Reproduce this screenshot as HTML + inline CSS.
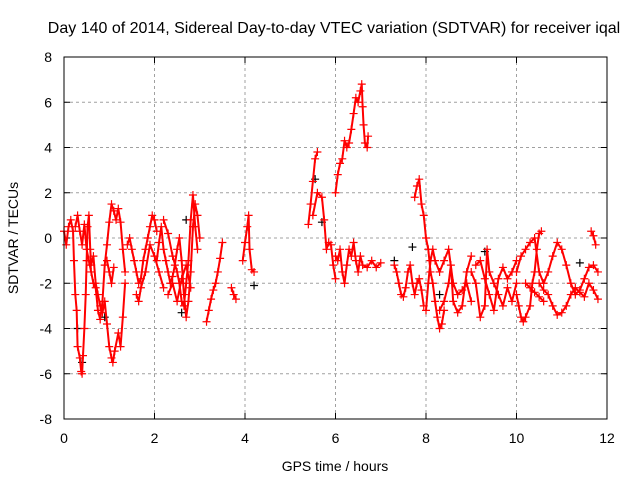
<!DOCTYPE html>
<html><head><meta charset="utf-8"><style>
body{margin:0;background:#fff;}
svg{display:block;font-family:"Liberation Sans",sans-serif;}
</style></head><body>
<svg id="chart" width="640" height="480" viewBox="0 0 640 480">
<rect width="640" height="480" fill="#fff"/>
<text x="334" y="33" font-size="16" text-anchor="middle">Day 140 of 2014, Sidereal Day-to-day VTEC variation (SDTVAR) for receiver iqal</text>
<g id="grid"></g>
<g id="axes"></g>
<g id="marks"></g>
<rect x="64" y="57" width="543" height="362" fill="none" stroke="#000" stroke-width="1"/>
<text x="335" y="471" font-size="14" text-anchor="middle">GPS time / hours</text>
<text x="0" y="0" font-size="14" text-anchor="middle" transform="translate(18,238) rotate(-90)">SDTVAR / TECUs</text>
</svg>
<script>
const xTicks=[0,2,4,6,8,10,12];
const yTicks=[-8,-6,-4,-2,0,2,4,6,8];
const traceA=[[0,0.3],[0.05,-0.3],[0.1,0.5],[0.15,0.8],[0.2,0.3],[0.22,-1],[0.25,-2.5],[0.28,-3.2],[0.3,-4.8],[0.35,-5.3],[0.38,-5.9],[0.4,-6.0],[0.42,-5.2],[0.45,-4],[0.48,-2.5],[0.5,-1],[0.52,0.5],[0.55,1.0],[0.58,-0.5],[0.6,-1.2],[0.65,-0.8],[0.7,-2],[0.75,-2.5],[0.8,-3.0],[0.85,-3.3],[0.9,-2.8],[0.95,-3.8],[1.0,-4.8],[1.05,-5.3],[1.08,-5.5],[1.12,-5.0],[1.2,-4.2],[1.25,-4.8],[1.3,-3.5],[1.35,-2.0]];
const traceB=[[0.25,0.5],[0.3,1.0],[0.35,0.3],[0.4,-0.3],[0.45,0.6],[0.5,-0.5],[0.55,-1.0],[0.6,-1.5],[0.65,-2.0],[0.7,-2.2],[0.75,-3.2],[0.8,-3.6],[0.85,-2.8],[0.9,-1.2],[0.95,-0.3],[1.0,0.7],[1.05,1.5],[1.1,1.2],[1.15,0.8],[1.2,1.3],[1.25,0.7],[1.3,-0.5],[1.35,-1.5]];
const traceC=[[0.95,-1.0],[1.0,-1.5],[1.05,-2.0],[1.1,-1.3]];
const traceD=[[1.4,-0.3],[1.45,0],[1.5,-0.5],[1.55,-1.0],[1.6,-1.5],[1.65,-2.0],[1.7,-1.8],[1.75,-1.0],[1.8,-0.5],[1.85,0],[1.9,0.5],[1.95,1.0],[2.0,0.8],[2.05,0.3]];
const traceE=[[1.6,-2.5],[1.65,-2.8],[1.7,-2.2],[1.8,-1.5],[1.9,-0.3],[2.0,-0.8],[2.1,-1.5],[2.2,-2.2]];
const traceF=[[2.05,-1.0],[2.1,-0.2],[2.15,0.5],[2.2,-0.5],[2.25,-1.0],[2.3,-1.5],[2.35,-2.0],[2.4,-1.7],[2.45,-1.2],[2.5,-0.5],[2.55,0],[2.6,-1],[2.65,-2.5],[2.7,-3.5],[2.75,-2.8],[2.8,-1.5],[2.85,0.5],[2.9,1.5],[2.95,1.0],[3.0,0.0]];
const traceG=[[2.2,0.8],[2.3,0.2],[2.4,-0.8],[2.5,-1.5],[2.55,-2.0],[2.6,-2.8],[2.65,-3.0],[2.7,-2.0],[2.75,-1.0],[2.8,0.8],[2.85,1.9],[2.9,0.5],[2.95,-0.5]];
const traceH=[[2.3,-2.5],[2.4,-2.0],[2.5,-2.8],[2.6,-1.8],[2.7,-1.2],[2.8,-2.2]];
const traceI=[[3.15,-3.7],[3.2,-3.2],[3.25,-2.7],[3.3,-2.3],[3.35,-2.0],[3.4,-1.5],[3.45,-0.9],[3.5,-0.2]];
const traceJ=[[3.7,-2.2],[3.75,-2.5],[3.8,-2.7]];
const traceK=[[3.95,-1.0],[4.0,-0.2],[4.05,0.5],[4.08,1.0],[4.1,-0.5],[4.15,-1.4],[4.2,-1.5]];
const traceL=[[5.4,0.6],[5.45,1.5],[5.5,2.5],[5.55,3.5],[5.6,3.8]];
const traceM=[[5.5,1.0],[5.6,2.0],[5.7,1.8],[5.75,0.8],[5.8,-0.5],[5.85,-0.2],[5.9,-0.3],[5.95,-1.2],[6.0,-1.8]];
const traceN=[[6.0,2.0],[6.05,2.8],[6.1,3.3],[6.15,3.5],[6.2,4.3],[6.25,4.0],[6.3,4.2],[6.35,4.8],[6.4,5.5],[6.45,6.2],[6.5,6.0],[6.55,6.5],[6.58,6.8],[6.6,5.8],[6.62,5.0],[6.65,4.2],[6.7,4.0],[6.72,4.5]];
const traceO=[[6.0,-0.8],[6.05,-1.0],[6.1,-0.5],[6.15,-1.5],[6.2,-2.0],[6.25,-1.2],[6.3,-0.5],[6.35,-0.8],[6.4,-0.2],[6.45,-1.0],[6.5,-1.5],[6.55,-0.8],[6.6,-1.2],[6.7,-1.3],[6.8,-1.0],[6.9,-1.3],[7.0,-1.1]];
const traceP=[[7.3,-1.2],[7.35,-1.5],[7.4,-2.0],[7.45,-2.5],[7.5,-2.6],[7.55,-2.2],[7.6,-1.5],[7.65,-1.2],[7.7,-2.0],[7.75,-2.5],[7.8,-2.0],[7.85,-1.8],[7.9,-2.3],[7.95,-3.0]];
const traceQ=[[7.75,1.8],[7.8,2.3],[7.85,2.6],[7.9,1.5],[7.95,1.0],[8.0,0],[8.05,-0.5],[8.1,-1.5],[8.15,-2.0],[8.2,-2.8],[8.25,-3.5],[8.3,-4.0],[8.35,-3.8],[8.4,-3.2]];
const traceR=[[8.0,-3.2],[8.05,-2.0],[8.1,-1.0],[8.15,-0.5],[8.2,-1.0],[8.3,-1.5],[8.4,-1.0],[8.5,-0.5],[8.6,-2.0],[8.7,-2.5],[8.8,-2.3],[8.9,-2.0],[9.0,-2.8]];
const traceS=[[8.3,-3.2],[8.4,-2.8],[8.5,-2.0],[8.55,-1.2],[8.6,-2.8],[8.7,-3.3],[8.8,-3.0],[8.9,-1.5],[9.0,-0.8]];
const traceT=[[9.0,-1.5],[9.1,-2.0],[9.2,-3.5],[9.3,-3.0],[9.35,-0.5],[9.4,-1.5],[9.5,-2.0],[9.6,-2.5],[9.7,-3.0],[9.8,-2.2],[9.9,-2.8],[10.0,-2.0]];
const traceU=[[9.1,-1.2],[9.2,-1.0],[9.3,-1.8],[9.4,-2.5],[9.5,-3.2],[9.6,-1.8],[9.7,-1.3],[9.8,-1.8],[9.9,-1.5],[10.0,-1.0]];
const traceV=[[10.0,-2.5],[10.05,-3.0],[10.1,-3.5],[10.15,-3.7],[10.2,-3.5],[10.3,-3.0],[10.35,-2.0],[10.4,-1.5],[10.45,-0.5],[10.5,0.2],[10.55,0.3]];
const traceW=[[10.0,-1.5],[10.1,-0.8],[10.2,-0.5],[10.3,-0.2],[10.4,0],[10.5,-1.5],[10.6,-2.0],[10.7,-1.5],[10.8,-0.8],[10.9,-0.2],[11.0,-0.5],[11.1,-1.2],[11.2,-2.0],[11.3,-2.5],[11.4,-2.3],[11.5,-1.8],[11.6,-1.3],[11.7,-1.2],[11.8,-1.5]];
const traceX=[[10.5,-2.0],[10.6,-2.3],[10.7,-2.5],[10.8,-3.0],[10.9,-3.4],[11.0,-3.3],[11.1,-3.0],[11.2,-2.5],[11.3,-2.2],[11.4,-2.4],[11.5,-2.6],[11.6,-2.0],[11.7,-2.3],[11.8,-2.7]];
const traceY=[[11.65,0.3],[11.7,0.1],[11.75,-0.3]];
const traceZ=[[10.2,-2.0],[10.3,-2.2],[10.4,-2.4],[10.5,-2.6],[10.6,-2.8]];
const blackPts=[[0.3,-4.0],[0.4,-5.5],[0.9,-3.5],[2.6,-3.3],[2.7,0.8],[4.2,-2.1],[5.55,2.6],[5.7,0.7],[7.3,-1.0],[7.7,-0.4],[8.3,-2.5],[9.3,-0.6],[11.4,-1.1]];

const traces=[traceA,traceB,traceC,traceD,traceE,traceF,traceG,traceH,traceI,traceJ,traceK,traceL,traceM,traceN,traceO,traceP,traceQ,traceR,traceS,traceT,traceU,traceV,traceW,traceX,traceY,traceZ];
const NS='http://www.w3.org/2000/svg';
const X0=64,X1=607,Y0=419,Y1=57;
function sx(v){return X0+(v-0)/(12-0)*(X1-X0);}
function sy(v){return Y0-(v+8)/16*(Y0-Y1);}
const grid=document.getElementById('grid'),axes=document.getElementById('axes'),marks=document.getElementById('marks');
function mk(tag,at,parent){const e=document.createElementNS(NS,tag);for(const k in at)e.setAttribute(k,at[k]);parent.appendChild(e);return e;}
xTicks.forEach(t=>{
  const x=sx(t);
  if(t>0&&t<12){const g=mk('line',{x1:x,x2:x,y1:Y0,y2:Y1,stroke:'#a0a0a0','stroke-dasharray':'3,3'},grid);
  
  }
  mk('line',{x1:x,x2:x,y1:Y0,y2:Y0-6,stroke:'#000'},axes);
  mk('line',{x1:x,x2:x,y1:Y1,y2:Y1+6,stroke:'#000'},axes);
  const l=mk('text',{x:x,y:443,'font-size':14,'text-anchor':'middle'},axes);l.textContent=t;
  
  
});
yTicks.forEach(t=>{
  const y=sy(t);
  if(t>-8&&t<8){const g=mk('line',{x1:X0,x2:X1,y1:y,y2:y,stroke:'#a0a0a0','stroke-dasharray':'3,3'},grid);
  
  }
  mk('line',{x1:X0,x2:X0+6,y1:y,y2:y,stroke:'#000'},axes);
  mk('line',{x1:X1,x2:X1-6,y1:y,y2:y,stroke:'#000'},axes);
  const l=mk('text',{x:52,y:y+5,'font-size':14,'text-anchor':'end'},axes);l.textContent=t;
  
  
});
function plus(p,color){
  const x=sx(p[0]),y=sy(p[1]);
  const g=mk('path',{d:`M${x-4} ${y}H${x+4}M${x} ${y-4}V${y+4}`,stroke:color,'stroke-width':1.2,fill:'none'},marks);
  
  
}
blackPts.forEach(p=>plus(p,'#000'));
traces.forEach(tr=>{
  const pl=mk('polyline',{points:tr.map(p=>sx(p[0])+','+sy(p[1])).join(' '),stroke:'#ff0000','stroke-width':2,fill:'none','stroke-linejoin':'round'},marks);
  
  
  tr.forEach(p=>plus(p,'#ff0000'));
});
</script>
</body></html>
